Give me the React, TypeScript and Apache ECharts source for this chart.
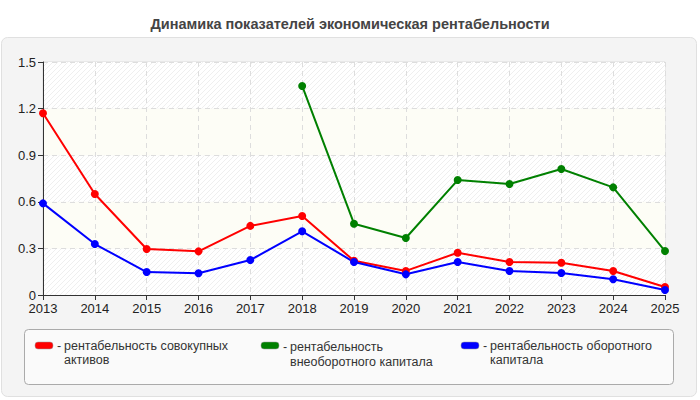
import React, { useEffect, useRef } from "react";
import * as echarts from "echarts";

const years = ["2013", "2014", "2015", "2016", "2017", "2018", "2019", "2020", "2021", "2022", "2023", "2024", "2025"];
const totalAssets = [1.17, 0.65, 0.296, 0.281, 0.445, 0.509, 0.22, 0.155, 0.272, 0.212, 0.208, 0.155, 0.051];
const nonCurrentCapital = [null, null, null, null, null, 1.346, 0.459, 0.367, 0.74, 0.715, 0.811, 0.693, 0.283];
const workingCapital = [0.59, 0.328, 0.148, 0.14, 0.225, 0.41, 0.212, 0.133, 0.212, 0.155, 0.142, 0.101, 0.032];
const seriesNames = [
  "рентабельность совокупных активов",
  "рентабельность внеоборотного капитала",
  "рентабельность оборотного капитала",
];
const legendFirstLines = ["рентабельность совокупных", "рентабельность", "рентабельность оборотного"];
const legendSecondLines = ["активов", "внеоборотного капитала", "капитала"];
const colors = ["#ff0000", "#008000", "#0000ff"];
const titleText = "Динамика показателей экономическая рентабельности";

function makeHatch(): string {
  const c = document.createElement("canvas");
  c.width = 5;
  c.height = 5;
  const ctx = c.getContext("2d")!;
  ctx.fillStyle = "#ffffff";
  ctx.fillRect(0, 0, 5, 5);
  ctx.strokeStyle = "#efefef";
  ctx.lineWidth = 1;
  ctx.beginPath();
  ctx.moveTo(-1, 6);
  ctx.lineTo(6, -1);
  ctx.moveTo(-1, 1);
  ctx.lineTo(1, -1);
  ctx.moveTo(4, 6);
  ctx.lineTo(6, 4);
  ctx.stroke();
  return c.toDataURL();
}

export default function App() {
  const ref = useRef<HTMLDivElement>(null);
  useEffect(() => {
    if (!ref.current) return;
    const chart = echarts.init(ref.current, null, { renderer: "svg" });
    const hatch = { image: makeHatch(), imageWidth: 5, imageHeight: 5, repeat: "repeat" };
    const font = "'Liberation Sans', Arial, sans-serif";

    const legendX = [35, 261, 461];
    const textX = [57, 283, 483];
    const lineHeights = [13.5, 15, 13.5];
    const legendGraphics: any[] = [];
    seriesNames.forEach((_, i) => {
      legendGraphics.push({
        type: "rect",
        shape: { x: legendX[i], y: 342, width: 18, height: 7, r: 3 },
        style: { fill: colors[i], stroke: "#999", lineWidth: 0.5 },
      });
      legendGraphics.push({
        type: "text",
        x: textX[i],
        y: 339.5,
        style: {
          text: `{h|-}${legendFirstLines[i]}\n{h| }${legendSecondLines[i]}`,
          font: `12.5px ${font}`,
          fill: "#333",
          verticalAlign: "top",
          lineHeight: lineHeights[i],
          rich: {
            h: { width: 7, fontSize: 12.5, fontFamily: font, color: "#333", lineHeight: lineHeights[i] },
          },
        },
      });
    });

    chart.setOption({
      animation: false,
      backgroundColor: "#ffffff",
      title: {
        text: titleText,
        left: "center",
        top: 11,
        textStyle: { fontSize: 14.5, fontWeight: "bold", color: "#444", fontFamily: font },
      },
      legend: { show: false },
      graphic: [
        {
          type: "rect",
          z: -10,
          shape: { x: 1.5, y: 37.5, width: 695, height: 359, r: 6 },
          style: { fill: "#f4f4f4", stroke: "#e0e0e0", lineWidth: 1 },
        },
        {
          type: "rect",
          z: -9,
          shape: { x: 24.5, y: 329.5, width: 649, height: 55, r: 4 },
          style: { fill: "#fafafa", stroke: "#aaaaaa", lineWidth: 1 },
        },
        ...legendGraphics,
      ],
      grid: {
        left: 43,
        right: 35,
        top: 62,
        bottom: 105,
        show: true,
        borderColor: "#dddddd",
        borderWidth: 1,
        backgroundColor: "transparent",
      },
      xAxis: {
        type: "category",
        data: years,
        boundaryGap: false,
        axisLine: { lineStyle: { color: "#333", width: 1 } },
        axisTick: { show: true, length: 5, lineStyle: { color: "#333" } },
        axisLabel: { color: "#222", fontSize: 13, fontFamily: font, margin: 7 },
        splitLine: { show: true, lineStyle: { color: "#dddddd", type: [5, 4] } },
      },
      yAxis: {
        type: "value",
        min: 0,
        max: 1.5,
        interval: 0.3,
        axisLine: { show: true, lineStyle: { color: "#333", width: 1 } },
        axisTick: { show: true, length: 5, lineStyle: { color: "#333" } },
        axisLabel: { color: "#222", fontSize: 13, fontFamily: font, margin: 7 },
        splitLine: { show: true, lineStyle: { color: "#dddddd", type: [5, 4] } },
        splitArea: { show: true, areaStyle: { color: [hatch, "#fdfdf6"] } },
      },
      series: [totalAssets, nonCurrentCapital, workingCapital].map((d, i) => ({
        name: seriesNames[i],
        type: "line",
        data: d,
        color: colors[i],
        symbol: "circle",
        symbolSize: 8,
        lineStyle: { width: 2, color: colors[i] },
        itemStyle: { color: colors[i] },
        connectNulls: false,
      })),
    });
    return () => chart.dispose();
  }, []);
  return <div ref={ref} style={{ width: 700, height: 400, position: "absolute", left: 0, top: 0 }} />;
}
